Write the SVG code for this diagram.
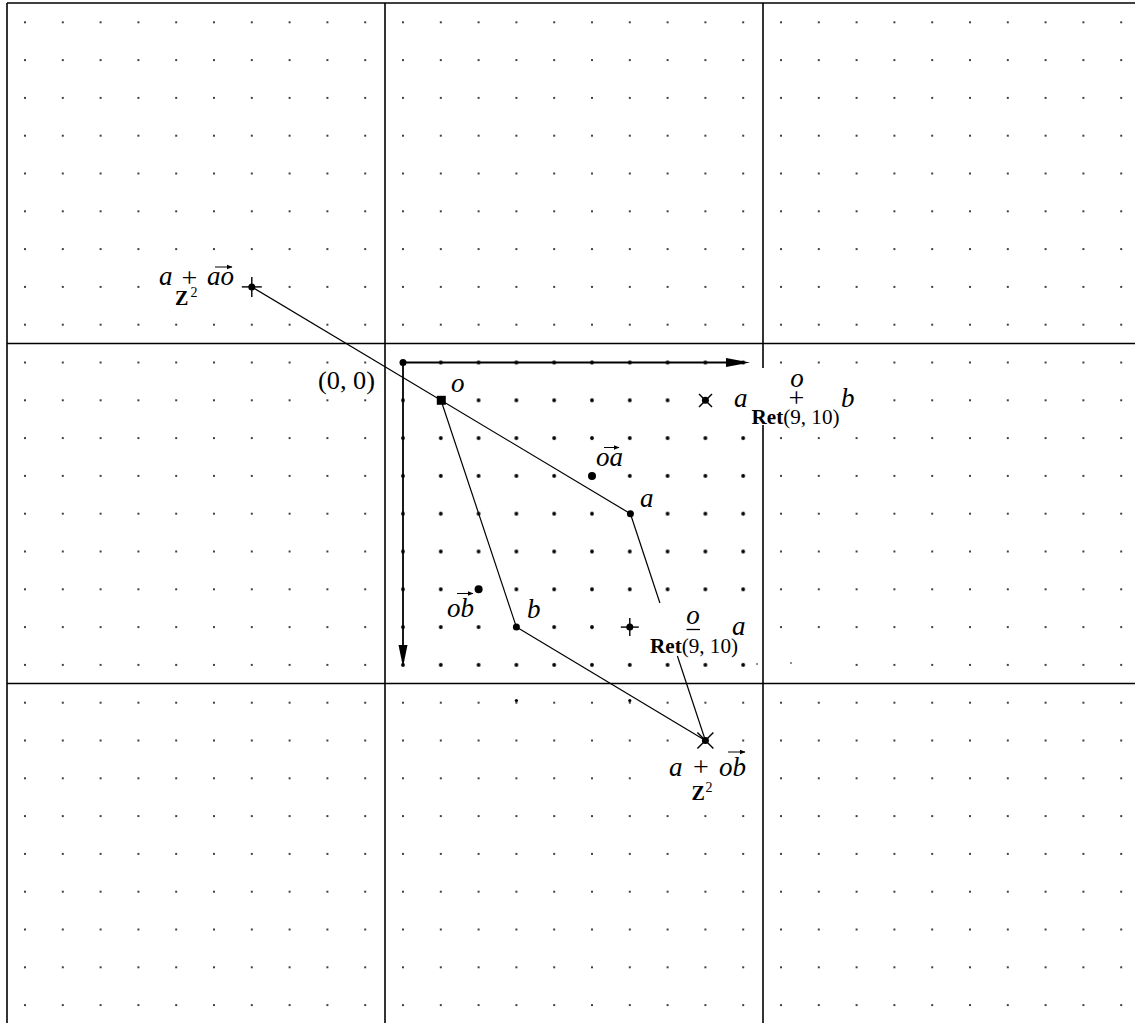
<svg xmlns="http://www.w3.org/2000/svg" width="1135" height="1023" viewBox="0 0 1135 1023">
<style>
text{font-family:"Liberation Serif","Times New Roman",serif;fill:#000}
.it{font-style:italic;font-size:27px}
.rm{font-size:28px}
.bf{font-weight:bold}
.sep{stroke:#000;stroke-width:1.6;fill:none}
.edge{stroke:#000;stroke-width:1.2;fill:none}
.axis{stroke:#000;stroke-width:1.8;fill:none}
.vec{stroke:#000;stroke-width:1;fill:none;marker-end:url(#vh)}
.bg{fill:#fff}
.mk{stroke:#000;stroke-width:1.4;fill:none}
</style>
<defs>
<pattern id="dotS" patternUnits="userSpaceOnUse" x="6.1" y="3.4" width="37.8" height="37.8"><circle cx="18.9" cy="18.9" r="1.05" fill="#111"/></pattern>
<pattern id="dotL" patternUnits="userSpaceOnUse" x="6.1" y="3.4" width="37.8" height="37.8"><circle cx="18.9" cy="18.9" r="1.9" fill="#000"/></pattern>
<marker id="vh" viewBox="0 0 6 6" refX="5.5" refY="3" markerWidth="6" markerHeight="6" markerUnits="userSpaceOnUse" orient="auto"><path d="M0,0.6 L6,3 L0,5.4 z" fill="#000"/></marker>
</defs>
<rect x="0" y="0" width="1135" height="1023" fill="#fff"/>
<g id="grid">
<rect x="7" y="3" width="1128" height="1020" fill="url(#dotS)"/>
<rect x="386" y="344" width="376" height="339" fill="#fff"/>
<rect x="386" y="344" width="376" height="339" fill="url(#dotL)"/>
<circle cx="516.4" cy="700.5" r="1.6"/>
<circle cx="629.8" cy="700.5" r="1.6"/>
<rect class="bg" x="772" y="659" width="56" height="11"/>
<circle cx="757" cy="664" r="0.8"/>
<circle cx="791" cy="663" r="0.8"/>
</g>
<g id="separators">
<line class="sep" x1="7" y1="3" x2="7" y2="1023"/>
<line class="sep" x1="7" y1="3" x2="1135" y2="3"/>
<line class="sep" x1="385" y1="3" x2="385" y2="1023"/>
<line class="sep" x1="763" y1="3" x2="763" y2="1023"/>
<line class="sep" x1="7" y1="343.5" x2="1135" y2="343.5"/>
<line class="sep" x1="7" y1="683.5" x2="1135" y2="683.5"/>
</g>
<g id="label-backgrounds">
<rect class="bg" x="158" y="262" width="80" height="46"/>
<rect class="bg" x="731" y="368" width="131" height="57"/>
<rect class="bg" x="648" y="603" width="102" height="54"/>
<rect class="bg" x="665" y="749" width="85" height="56"/>
</g>
<g id="axes">
<line class="axis" x1="403" y1="362.5" x2="730" y2="362.5"/>
<polygon points="726,358 750,362.5 726,367"/>
<line class="axis" x1="403" y1="362.5" x2="403" y2="648"/>
<polygon points="398.5,645 403,667 407.5,645"/>
<circle cx="403" cy="362.5" r="3.5"/>
</g>
<g id="connectors">
<line class="edge" x1="251.8" y1="286.9" x2="630.4" y2="513.7"/>
<line class="edge" x1="441" y1="400.3" x2="516.4" y2="627.1"/>
<line class="edge" x1="516.4" y1="627.1" x2="705.4" y2="740.5"/>
<line class="edge" x1="630.4" y1="513.7" x2="659.9" y2="603"/>
<line class="edge" x1="677.4" y1="656" x2="705.4" y2="740.5"/>
</g>
<g id="node-a-plus-ao">
<line class="mk" x1="241.8" y1="286.9" x2="261.8" y2="286.9"/>
<line class="mk" x1="251.8" y1="276.9" x2="251.8" y2="296.9"/>
<circle cx="251.8" cy="286.9" r="3.5"/>
<text class="it" x="159" y="285">a</text>
<text class="rm" x="189.5" y="287" text-anchor="middle">+</text>
<text class="it" x="207" y="285">ao</text>
<path class="vec" d="M215,267 H232"/>
<text class="bf" x="175" y="305" font-size="20">Z</text>
<text x="190.5" y="297" font-size="14">2</text>
</g>
<g id="node-origin">
<text x="318" y="389" font-size="25" textLength="57" lengthAdjust="spacingAndGlyphs">(0, 0)</text>
</g>
<g id="node-o">
<rect x="436.8" y="395.8" width="9" height="9"/>
<text class="it" x="451" y="392">o</text>
</g>
<g id="node-a">
<circle cx="630.4" cy="513.7" r="3.5"/>
<text class="it" x="640" y="507">a</text>
</g>
<g id="node-b">
<circle cx="516.4" cy="627.1" r="3.5"/>
<text class="it" x="527" y="618">b</text>
</g>
<g id="node-oa">
<circle cx="592" cy="475.9" r="4"/>
<text class="it" x="596" y="466">oa</text>
<path class="vec" d="M604,447.5 H619"/>
</g>
<g id="node-ob">
<circle cx="478.6" cy="589.3" r="4"/>
<text class="it" x="447" y="617">ob</text>
<path class="vec" d="M457,593.5 H473"/>
</g>
<g id="node-ret-sum">
<line class="mk" x1="699" y1="394" x2="712" y2="407"/>
<line class="mk" x1="699" y1="407" x2="712" y2="394"/>
<circle cx="705.4" cy="400.3" r="3.5"/>
<text class="it" x="734" y="407">a</text>
<text class="it" x="797" y="387" font-size="17" text-anchor="middle">o</text>
<text class="rm" x="796.5" y="407" text-anchor="middle">+</text>
<text x="751.5" y="424" font-size="21" textLength="88" lengthAdjust="spacingAndGlyphs"><tspan class="bf">Ret</tspan>(9, 10)</text>
<text class="it" x="841" y="407">b</text>
</g>
<g id="node-ret-diff">
<line class="mk" x1="620.8" y1="627.1" x2="638.8" y2="627.1"/>
<line class="mk" x1="629.8" y1="618.1" x2="629.8" y2="636.1"/>
<circle cx="629.8" cy="627.1" r="3.5"/>
<text class="it" x="693" y="624" font-size="17" text-anchor="middle">o</text>
<line stroke="#000" stroke-width="1.3" x1="686.5" y1="629.5" x2="700" y2="629.5"/>
<text x="650" y="653" font-size="21" textLength="88" lengthAdjust="spacingAndGlyphs"><tspan class="bf">Ret</tspan>(9, 10)</text>
<text class="it" x="732" y="635">a</text>
</g>
<g id="node-a-plus-ob">
<line class="mk" x1="697.4" y1="732.5" x2="713.4" y2="748.5"/>
<line class="mk" x1="697.4" y1="748.5" x2="713.4" y2="732.5"/>
<circle cx="705.4" cy="740.5" r="3.5"/>
<text class="it" x="669" y="776">a</text>
<text class="rm" x="701" y="776" text-anchor="middle">+</text>
<text class="it" x="719" y="776">ob</text>
<path class="vec" d="M728,752 H745"/>
<text class="bf" x="691.5" y="800" font-size="20">Z</text>
<text x="705.5" y="792" font-size="14">2</text>
</g>
</svg>
